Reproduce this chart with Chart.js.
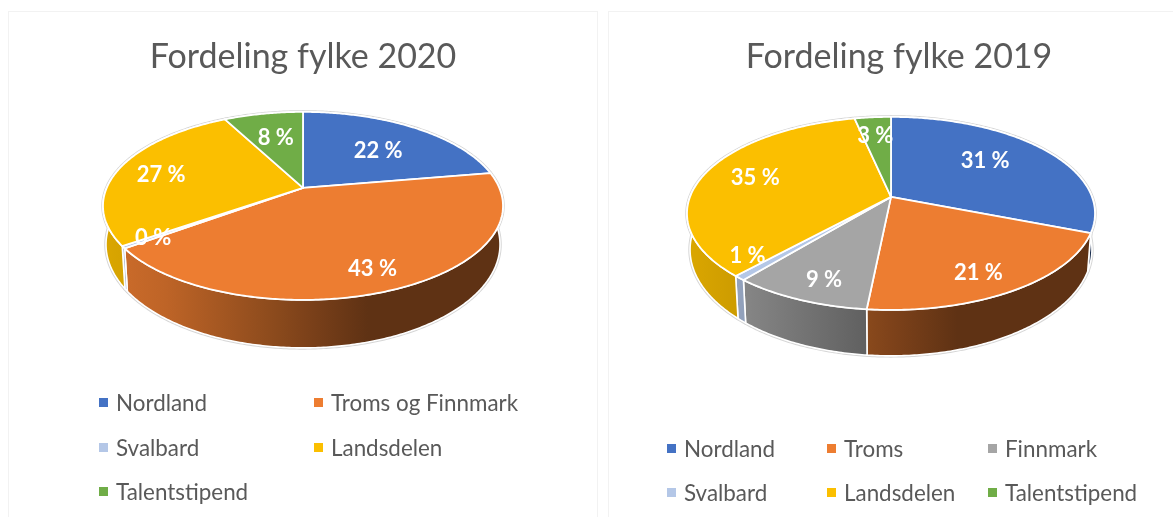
<!DOCTYPE html>
<html>
<head>
<meta charset="utf-8">
<style>
  html, body { margin: 0; padding: 0; background: #fff; overflow: hidden; }
  body { width: 1173px; height: 517px; position: relative; font-family: Lato, sans-serif; }
  .card { position: absolute; top: 11px; box-sizing: border-box; border: 1px solid #f2f2f2; border-bottom: 0; background: #fff; }
  .card canvas { position: absolute; left: -1px; top: -1px; }
  .item { position: absolute; color: #595959; font-size: 22.4px; line-height: 26px; white-space: nowrap; }
  .mark { position: absolute; width: 9px; height: 9px; }
</style>
</head>
<body>
<div class="card" id="card2020" style="left:8px;width:590px;height:506px"><canvas id="chart2020" width="590" height="506"></canvas></div>
<div class="card" id="card2019" style="left:608px;width:566px;height:506px"><canvas id="chart2019" width="566" height="506"></canvas></div>

<script src="https://cdn.jsdelivr.net/npm/chart.js@4"></script>
<script>
const categories2020 = ["Nordland", "Troms og Finnmark", "Svalbard", "Landsdelen", "Talentstipend"];
const values2020 = [22.3, 42.6, 0.4, 27.0, 7.7];
const colors2020 = ["#4472C4", "#ED7D31", "#B4C7E7", "#FBBF00", "#70AD47"];

const categories2019 = ["Nordland", "Troms", "Finnmark", "Svalbard", "Landsdelen", "Talentstipend"];
const values2019 = [30.9, 20.7, 9.4, 0.8, 34.8, 3.4];
const colors2019 = ["#4472C4", "#ED7D31", "#A5A5A5", "#B4C7E7", "#FBBF00", "#70AD47"];

// how far along the radius each label sits, plus a small hand nudge
const labelRadius2020 = [0.65, 0.78, 0.85, 0.77, 0.65];
const labelNudge2020 = [[0, 4], [0, 6], [0, 0], [0, 3], [0, 1]];
const labelRadius2019 = [0.6, 0.78, 0.8, 0.93, 0.7, 0.72];
const labelNudge2019 = [[0, -6], [-5, 6], [4, 4], [-4, -16], [-4, -2], [-2, -1]];

// shade of the side wall across the pie, left to right
const wallStops = [[0, 0.87], [0.15, 0.8], [0.44, 0.58], [0.5, 0.53], [0.665, 0.4], [1, 0.4]];

function shade(hex, f) {
  const n = parseInt(hex.slice(1), 16);
  return `rgb(${((n >> 16) & 255) * f},${((n >> 8) & 255) * f},${(n & 255) * f})`;
}

// perspective of the tilted disc: angle on the pie -> canvas point
function project(arc, t, angle, f) {
  const u = Math.cos(angle) * f;
  const v = Math.sin(angle) * f;
  const w = 1 + t.k * v;
  return {
    x: arc.x + arc.outerRadius * t.sx * u / w,
    y: arc.y + arc.outerRadius * t.sy * v / w
  };
}

function lower(arc, t, p) {
  return {
    x: arc.x + (p.x - arc.x) * 0.985,
    y: arc.y + t.mid + (p.y - arc.y - t.mid) * 1.1 + t.depth
  };
}

function arcPoints(arc, t) {
  const n = Math.max(2, Math.ceil((arc.endAngle - arc.startAngle) * 90));
  const pts = [];
  for (let i = 0; i <= n; i++) {
    const a = arc.startAngle + (arc.endAngle - arc.startAngle) * i / n;
    pts.push(project(arc, t, a, 1));
  }
  return pts;
}

function tracePoly(ctx, pts) {
  ctx.beginPath();
  pts.forEach((p, i) => (i ? ctx.lineTo(p.x, p.y) : ctx.moveTo(p.x, p.y)));
  ctx.closePath();
}

const tiltPie = {
  id: "tiltPie",
  afterLayout(chart, args, opts) {
    chart.titleBlock.left += opts.titleShift;
    chart.titleBlock.right += opts.titleShift;
  },
  beforeDatasetDraw(chart, args, opts) {
    const ctx = chart.ctx;
    const arcs = chart.getDatasetMeta(0).data;
    const colors = chart.data.datasets[0].backgroundColor;
    const left = arcs[0].x - arcs[0].outerRadius * opts.sx;
    const right = arcs[0].x + arcs[0].outerRadius * opts.sx;
    const walls = arcs.map((arc) => {
      const top = arcPoints(arc, opts);
      return top.concat(top.map((p) => lower(arc, opts, p)).reverse());
    });

    ctx.save();
    ctx.lineJoin = "round";
    // faint halo round the whole body
    ctx.strokeStyle = "#d6d6d6";
    ctx.lineWidth = 3.5;
    walls.forEach((pts) => { tracePoly(ctx, pts); ctx.stroke(); });

    walls.forEach((pts, i) => {
      const g = ctx.createLinearGradient(left, 0, right, 0);
      wallStops.forEach((s) => g.addColorStop(s[0], shade(colors[i], s[1])));
      tracePoly(ctx, pts);
      ctx.fillStyle = g;
      ctx.fill();
      ctx.strokeStyle = "#fff";
      ctx.lineWidth = 1.6;
      ctx.stroke();
    });

    arcs.forEach((arc, i) => {
      tracePoly(ctx, [{ x: arc.x, y: arc.y }].concat(arcPoints(arc, opts)));
      ctx.fillStyle = colors[i];
      ctx.fill();
      ctx.strokeStyle = "#fff";
      ctx.lineWidth = 1.8;
      ctx.stroke();
    });

    // value labels
    const total = chart.data.datasets[0].data.reduce((a, b) => a + b, 0);
    ctx.fillStyle = "#fff";
    ctx.font = "bold 22px Lato, sans-serif";
    ctx.textAlign = "center";
    ctx.textBaseline = "middle";
    arcs.forEach((arc, i) => {
      const mid = (arc.startAngle + arc.endAngle) / 2;
      const p = project(arc, opts, mid, opts.labelRadius[i]);
      const pct = Math.round(chart.data.datasets[0].data[i] / total * 100);
      ctx.fillText(pct + " %", p.x + opts.labelNudge[i][0], p.y + opts.labelNudge[i][1]);
    });
    ctx.restore();
    return false;
  }
};

function makeChart(id, title, categories, values, colors, tilt, padding) {
  return new Chart(document.getElementById(id), {
    type: "pie",
    data: { labels: categories, datasets: [{ data: values, backgroundColor: colors }] },
    options: {
      responsive: false,
      animation: false,
      radius: 100,
      layout: { padding },
      plugins: {
        legend: { display: false },
        tooltip: { enabled: false },
        title: {
          display: true,
          text: title,
          color: "#595959",
          font: { family: "Lato, sans-serif", size: 34, weight: "normal" },
          padding: { top: 26, bottom: 0 }
        },
        tiltPie: tilt
      }
    },
    plugins: [tiltPie]
  });
}

function addLegend(cardId, categories, colors, cols, rows) {
  const card = document.getElementById(cardId);
  const box = card.getBoundingClientRect();
  categories.forEach((name, i) => {
    const col = cols[i % cols.length];
    const row = rows[Math.floor(i / cols.length)];
    const mark = document.createElement("div");
    mark.className = "mark";
    mark.style.cssText = `left:${col - box.left - 1}px;top:${row - 5 - box.top - 1}px;background:${colors[i]}`;
    const text = document.createElement("div");
    text.className = "item";
    text.textContent = name;
    text.style.cssText = `left:${col + 17 - box.left - 1}px;top:${row - 13 - box.top - 1}px`;
    card.appendChild(mark);
    card.appendChild(text);
  });
}

makeChart("chart2020", "Fordeling fylke 2020", categories2020, values2020, colors2020,
  { k: -0.1915, sx: 1.963, sy: 0.9055, mid: 18, depth: 38.6, titleShift: 0, labelRadius: labelRadius2020, labelNudge: labelNudge2020 },
  { top: 0, bottom: 219 });
makeChart("chart2019", "Fordeling fylke 2019", categories2019, values2019, colors2019,
  { k: -0.171, sx: 2.01, sy: 0.937, mid: 16.5, depth: 36.3, titleShift: 8, labelRadius: labelRadius2019, labelNudge: labelNudge2019 },
  { top: 0, bottom: 201 });

addLegend("card2020", categories2020, colors2020, [99, 314], [403, 448, 492]);
addLegend("card2019", categories2019, colors2019, [667, 827, 988], [449, 493]);
</script>
</body>
</html>
